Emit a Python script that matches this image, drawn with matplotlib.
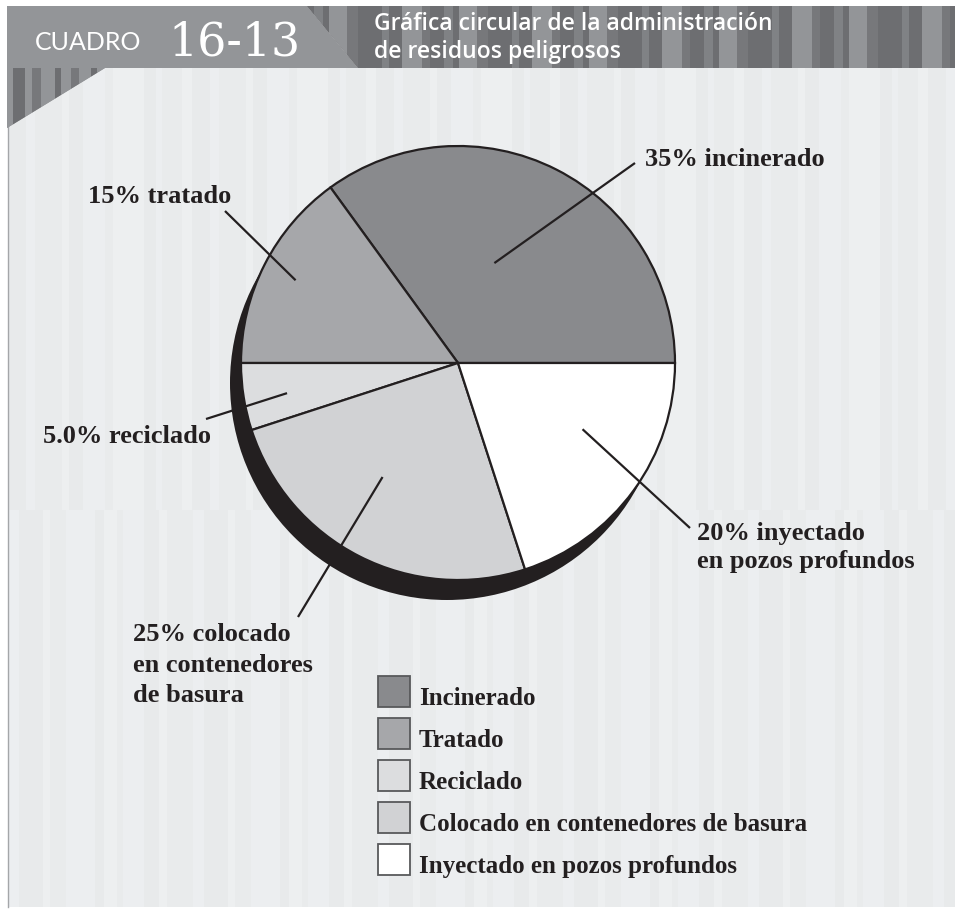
import matplotlib
matplotlib.use("Agg")
import matplotlib.pyplot as plt
from matplotlib.patches import Polygon, Rectangle, Circle
import numpy as np

# ---- data -------------------------------------------------------------
categories = ["Incinerado", "Tratado", "Reciclado",
              "Colocado en contenedores de basura",
              "Inyectado en pozos profundos"]
value_text = ["35", "15", "5.0", "25", "20"]
shares = [float(t) for t in value_text]
label_suffix = ["incinerado", "tratado", "reciclado",
                "colocado\nen contenedores\nde basura",
                "inyectado\nen pozos profundos"]
slice_colors = ["#898a8d", "#a6a7aa", "#dcdddf", "#d1d2d4", "#ffffff"]

header_code = ("CUADRO", "16-13")
header_title = ["Gráfica circular de la administración",
                "de residuos peligrosos"]

# ---- canvas in pixel units (y grows upward) ---------------------------
W, H = 955, 909
INK = "#231f20"


def Y(y):
    return H - y


fig = plt.figure(figsize=(W / 100, H / 100), dpi=100)
fig.patch.set_facecolor("white")
ax = fig.add_axes([0, 0, 1, 1])


def stripes(x0, x1, y0, y1, widths, cols, clip=None, z=0):
    x, i = x0, 0
    while x < x1:
        w = widths[i % len(widths)]
        c = cols[i % len(cols)]
        r = Rectangle((x, Y(y1)), min(w, x1 - x), y1 - y0, color=c, lw=0,
                      zorder=z)
        ax.add_patch(r)
        if clip is not None:
            r.set_clip_path(clip)
        x += w
        i += 1


# panel background with soft vertical stripes
ax.add_patch(Rectangle((8, Y(907)), W - 8, 907 - 68, color="#eceef0", lw=0,
                       zorder=0))
stripes(8, W, 68, 510, [18, 9, 27, 7, 14, 22, 8, 31, 12, 6, 20, 10],
        ["#e8eaeb", "#eceef0", "#e9ebec", "#edeff0"], z=0.1)
stripes(8, W, 510, 907, [11, 24, 7, 16, 29, 9, 13, 6, 21, 15, 8, 26],
        ["#eceef0", "#e8eaeb", "#edeff0", "#e9ebec"], z=0.1)
ax.plot([8, 8], [Y(68), Y(907)], color="#a4a6a9", lw=1.0, zorder=0.2)

# header banner
light = Polygon([(7, Y(6)), (307, Y(6)), (358, Y(68)), (7, Y(68))],
                closed=True, color="#939598", lw=0, zorder=1)
dark = Polygon([(307, Y(6)), (W, Y(6)), (W, Y(68)), (358, Y(68))],
               closed=True, color="#6d6e71", lw=0, zorder=1)
ax.add_patch(light)
ax.add_patch(dark)
stripes(300, W, 6, 68, [14, 9, 6, 18, 11, 24, 7, 13, 20, 8],
        ["#6d6e71", "#808285", "#6d6e71", "#939598", "#77787b"],
        clip=dark, z=1.1)

tri = Polygon([(7, Y(68)), (105, Y(68)), (7, Y(128))], closed=True,
              color="#939598", lw=0, zorder=1)
ax.add_patch(tri)
stripes(7, 105, 68, 128, [6, 12, 7, 9, 14, 6, 10, 8, 12],
        ["#939598", "#6d6e71", "#939598", "#77787b"], clip=tri, z=1.1)

ax.text(35, Y(50), header_code[0], family="Lato", fontsize=18,
        color="white", va="baseline", ha="left", zorder=2)
ax.text(168, Y(55), header_code[1], family="DejaVu Serif", fontsize=33,
        color="white", va="baseline", ha="left", zorder=2)
for k, line in enumerate(header_title):
    ax.text(374, Y(30 + 28 * k), line, family="Open Sans", weight=600,
            fontsize=16.5, color="white", va="baseline", ha="left", zorder=2)

# ---- pie --------------------------------------------------------------
cx, cy, R = 458, Y(363), 217
ax.add_patch(Circle((cx - 11, cy - 20), R, color=INK, lw=0, zorder=3))
wedges, _ = ax.pie(shares, colors=slice_colors, startangle=0,
                   counterclock=True, center=(cx, cy), radius=R, frame=True,
                   wedgeprops=dict(edgecolor=INK, linewidth=1.6, zorder=4))
for w in wedges:
    w.set_zorder(4)

# leader lines: inner end inside each wedge, outer end next to its label
inner_pos = [(70, 0.49), (153, 0.84), (190, 0.80), (236.5, 0.63), (332, 0.65)]
outer_end = [(635, 163), (225, 211), (206, 419), (298, 617), (690, 528)]
label_anchor = [(645, 166, 30), (88, 203, 30), (43, 443, 30),
                (133, 641, 30.5), (697, 540, 28)]

serif = "Liberation Serif"
for i, w in enumerate(wedges):
    ang, frac = inner_pos[i]
    # keep the inner end within the wedge's own angular span
    ang = min(max(ang, w.theta1 + 1), w.theta2 - 1)
    xi = cx + frac * R * np.cos(np.radians(ang))
    yi = cy + frac * R * np.sin(np.radians(ang))
    xo, yo = outer_end[i]
    ax.plot([xi, xo], [yi, Y(yo)], color=INK, lw=1.6, zorder=5,
            solid_capstyle="butt")
    text = f"{value_text[i]}% {label_suffix[i]}"
    lx, ly, step = label_anchor[i]
    for k, line in enumerate(text.split("\n")):
        ax.text(lx, Y(ly + step * k), line, family=serif, weight="bold",
                fontsize=19, color=INK, ha="left", va="baseline", zorder=6)

# ---- legend -----------------------------------------------------------
box_x, box_w, box_h = 378, 32, 31
first_bottom, pitch = 707, 42
for i, (name, col) in enumerate(zip(categories, slice_colors)):
    bottom = first_bottom + pitch * i
    ax.add_patch(Rectangle((box_x, Y(bottom)), box_w, box_h, facecolor=col,
                           edgecolor="#58595b", lw=1.3, zorder=5))
    ax.text(419, Y(bottom - 2), name, family=serif, weight="bold",
            fontsize=18, color=INK, ha="left", va="baseline", zorder=6)

ax.set_xlim(0, W)
ax.set_ylim(0, H)
ax.set_aspect("auto")
ax.axis("off")
fig.savefig("out.png", dpi=100, facecolor="white")
